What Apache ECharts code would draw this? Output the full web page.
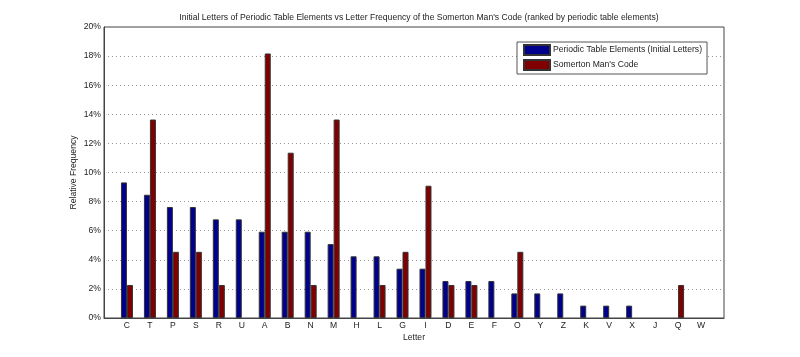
<!DOCTYPE html>
<html>
<head>
<meta charset="utf-8">
<script src="https://cdn.jsdelivr.net/npm/echarts@6/dist/echarts.min.js"></script>
<style>html,body{margin:0;padding:0;background:#fff}#c{width:800px;height:357px}</style>
</head>
<body>
<div id="c"></div>
<script>
const categories = ['C','T','P','S','R','U','A','B','N','M','H','L','G','I','D','E','F','O','Y','Z','K','V','X','J','Q','W'];
const periodicTable = [9.32,8.47,7.63,7.63,6.78,6.78,5.93,5.93,5.93,5.08,4.24,4.24,3.39,3.39,2.54,2.54,2.54,1.69,1.69,1.69,0.85,0.85,0.85,0,0,0];
const somerton = [2.27,13.64,4.55,4.55,2.27,0,18.18,11.36,2.27,13.64,0,2.27,4.55,9.09,2.27,2.27,0,4.55,0,0,0,0,0,0,2.27,0];
const yTicks = [0,2,4,6,8,10,12,14,16,18,20];

const padCats = [''].concat(categories).concat(['']);
const pad = a => [null].concat(a.map(v => v === 0 ? null : v)).concat([null]);
const FONT = 'Liberation Sans, Arial, sans-serif';
const FS = 8.6;

const chart = echarts.init(document.getElementById('c'), null, {renderer:'canvas'});
chart.setOption({
  animation:false,
  backgroundColor:'#fff',
  title:{
    text:'Initial Letters of Periodic Table Elements vs Letter Frequency of the Somerton Man\'s Code (ranked by periodic table elements)',
    left:414, top:8, textAlign:'center',
    textStyle:{fontFamily:FONT,fontSize:FS,fontWeight:'normal',color:'#222'}
  },
  legend:{
    left:517, top:42, orient:'vertical',
    backgroundColor:'#fff', borderColor:'#555', borderWidth:1,
    padding:[2,5,3,6], itemWidth:26, itemHeight:10, itemGap:3,
    textStyle:{fontFamily:FONT,fontSize:FS,color:'#222',padding:[0,0,0,-2]},
    data:[{name:'Periodic Table Elements (Initial Letters)',icon:'rect'},{name:'Somerton Man\'s Code',icon:'rect'}]
  },
  grid:{left:104,right:76,top:27,bottom:39,show:true,borderColor:'#444',borderWidth:1,backgroundColor:'#fff'},
  xAxis:{
    type:'category', data:padCats, boundaryGap:false,
    name:'Letter', nameLocation:'middle', nameGap:15, nameMoveOverlap:false,
    nameTextStyle:{fontFamily:FONT,fontSize:FS,color:'#222'},
    axisLine:{lineStyle:{color:'#444'}}, axisTick:{show:false},
    axisLabel:{interval:0,fontFamily:FONT,fontSize:FS,color:'#222',margin:3},
    splitLine:{show:false}
  },
  yAxis:{
    type:'value', min:yTicks[0], max:yTicks[yTicks.length-1], interval:2,
    name:'Relative Frequency', nameLocation:'middle', nameGap:26, nameMoveOverlap:false,
    nameTextStyle:{fontFamily:FONT,fontSize:FS,color:'#222'},
    axisLine:{show:true,lineStyle:{color:'#444'}}, axisTick:{show:false},
    axisLabel:{formatter:'{value}%',fontFamily:FONT,fontSize:FS,color:'#222',margin:3},
    splitLine:{show:true,lineStyle:{color:'#999',type:[1,3],width:1}}
  },
  series:[
    {name:'Periodic Table Elements (Initial Letters)',type:'bar',data:pad(periodicTable),barWidth:6,barGap:'0%',
     itemStyle:{color:'#00008f',borderColor:'#333',borderWidth:1}},
    {name:'Somerton Man\'s Code',type:'bar',data:pad(somerton),barWidth:6,barGap:'0%',
     itemStyle:{color:'#800000',borderColor:'#333',borderWidth:1}}
  ]
});
</script>
</body>
</html>
